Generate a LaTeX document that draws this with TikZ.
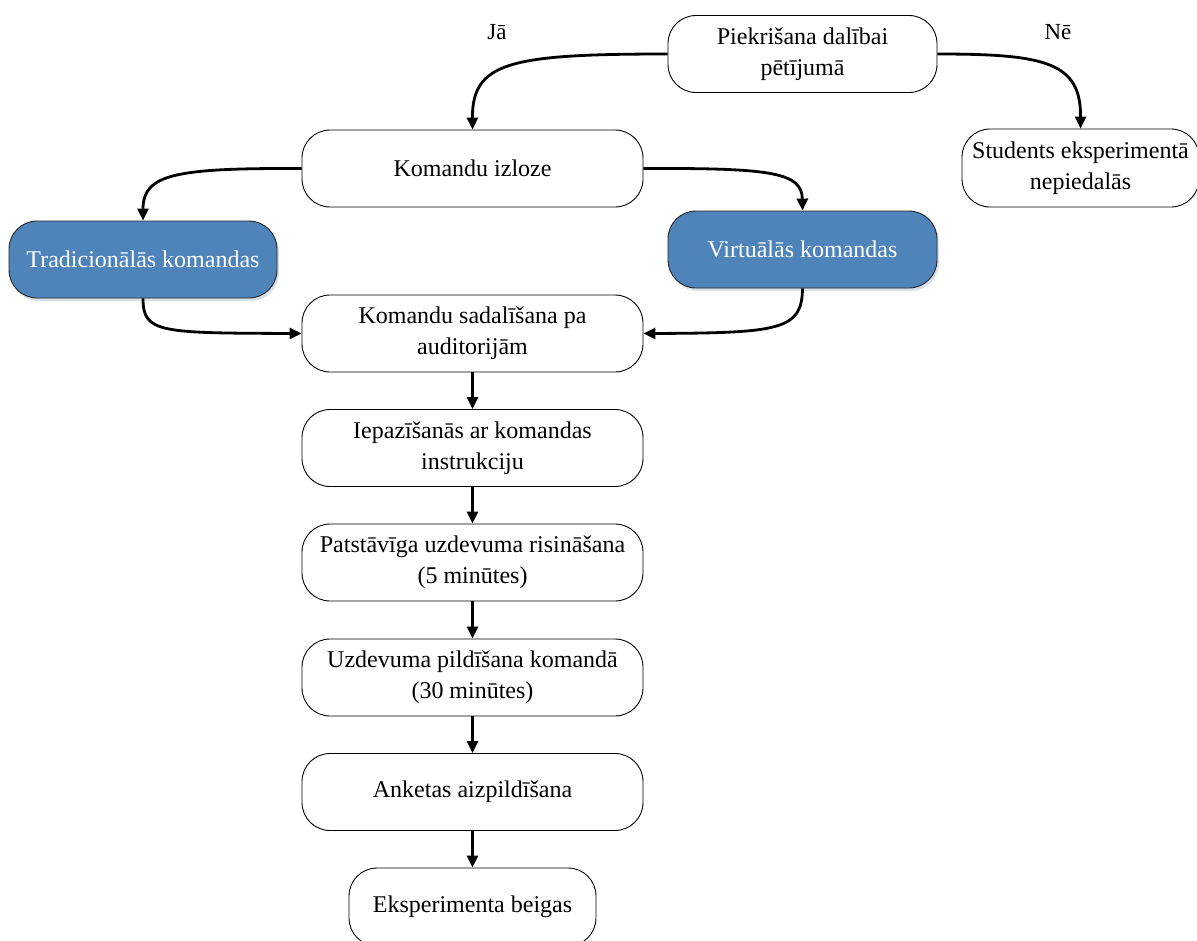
\documentclass[tikz,border=0pt]{standalone}
\usepackage{fontspec}
\setmainfont{Liberation Serif}
\usetikzlibrary{arrows.meta,shadows}
\definecolor{boxblue}{HTML}{4F84BA}
\begin{document}
\begin{tikzpicture}[x=1pt,y=-1pt,
  box/.style={draw=black, line width=0.9pt, rounded corners=28pt, align=center,
    font=\fontsize{24}{31}\selectfont, inner sep=0pt, fill=white},
  wide/.style={box, minimum width=341pt, minimum height=77pt},
  mid/.style={box, minimum width=269pt, minimum height=77pt},
  bluebox/.style={mid, fill=boxblue, text=white, draw=black!85,
    drop shadow={opacity=0.25, shadow xshift=2pt, shadow yshift=-3pt, fill=boxblue!60!gray}},
  lbl/.style={font=\fontsize{23}{27}\selectfont},
  conn/.style={line width=2.8pt, -{Triangle[length=12pt,width=11pt]}}
]
\useasboundingbox (0,0) rectangle (1197,940);

% decision at the top and its two outcomes
\node[mid] (agree) at (802.5,54) {Piekrišana dalībai\\pētījumā};
\node[wide] (draw) at (472.5,168.5) {Komandu izloze};
\node[box, minimum width=237pt, minimum height=78pt] (out) at (1080.5,168) {Students eksperimentā\\nepiedalās};
\node[lbl] (yes) at (497,32) {Jā};
\node[lbl] (no) at (1058,32) {Nē};

% the two kinds of teams
\node[bluebox, minimum width=268pt] (trad) at (143,259.5) {Tradicionālās komandas};
\node[bluebox] (virt) at (802.5,249.5) {Virtuālās komandas};

% main sequence
\node[wide] (rooms) at (472.5,333.5) {Komandu sadalīšana pa\\auditorijām};
\node[wide] (intro) at (472.5,448) {Iepazīšanās ar komandas\\instrukciju};
\node[wide] (solo)  at (472.5,562.5) {Patstāvīga uzdevuma risināšana\\(5 minūtes)};
\node[wide] (team)  at (472.5,677.5) {Uzdevuma pildīšana komandā\\(30 minūtes)};
\node[wide] (survey) at (472.5,792) {Anketas aizpildīšana};
\node[box, minimum width=247pt, minimum height=78pt] (end) at (472.5,907) {Eksperimenta beigas};

% curved connectors
\draw[conn] (agree.west) .. controls (510,54) and (472,62) .. (draw.north);
\draw[conn] (agree.east) .. controls (1045,54) and (1081,62) .. (out.north);
\draw[conn] (draw.west) .. controls (175,168) and (143,174) .. (trad.north);
\draw[conn] (draw.east) .. controls (770,168) and (802,172) .. (virt.north);
\draw[conn] (trad.south) .. controls (143,333) and (160,333) .. (rooms.west);
\draw[conn] (virt.south) .. controls (802,330) and (780,333) .. (rooms.east);

% straight connectors
\draw[conn] (rooms.south) -- (intro.north);
\draw[conn] (intro.south) -- (solo.north);
\draw[conn] (solo.south) -- (team.north);
\draw[conn] (team.south) -- (survey.north);
\draw[conn] (survey.south) -- (end.north);
\end{tikzpicture}
\end{document}
